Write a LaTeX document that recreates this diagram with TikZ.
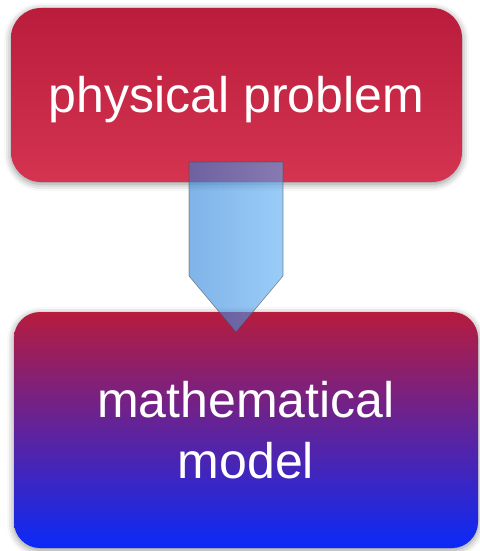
\documentclass[tikz,border=0pt]{standalone}
\usepackage{fontspec}
\setmainfont{Liberation Sans}
\usetikzlibrary{shadows.blur}
\definecolor{topA}{RGB}{186,28,60}
\definecolor{topB}{RGB}{212,52,80}
\definecolor{botA}{RGB}{182,28,62}
\definecolor{botM}{RGB}{104,34,140}
\definecolor{botB}{RGB}{10,42,248}
\definecolor{arrL}{RGB}{43,130,217}
\definecolor{arrR}{RGB}{87,170,242}
\tikzset{
  box/.style={rectangle, text=white, font=\fontsize{50}{61}\selectfont, align=center,
    blur shadow={shadow xshift=0pt, shadow yshift=-2pt, shadow blur radius=7pt, shadow opacity=45}},
}
\begin{document}
\begin{tikzpicture}[x=1pt,y=-1pt]
\useasboundingbox (0,0) rectangle (479,551);
\node[box, rounded corners=30pt, minimum width=451pt, minimum height=174pt,
  top color=topA, bottom color=topB] (phys) at (236.5,95) {\raisebox{-5pt}[\height][\depth]{physical problem}};
\node[box, rounded corners=26pt, minimum width=464pt, minimum height=236pt,
  top color=botA, middle color=botM, bottom color=botB] (math) at (246,430) {mathematical\\model};
\coordinate (tl) at (189,162);
\coordinate (tr) at (283,162);
\coordinate (br) at (283,276);
\coordinate (tip) at (236,332);
\coordinate (bl) at (189,276);
\draw[draw=black!70, line width=0.6pt, left color=arrL, right color=arrR, opacity=0.6]
  (tl) -- (tr) -- (br) -- (tip) -- (bl) -- cycle;
\end{tikzpicture}
\end{document}
